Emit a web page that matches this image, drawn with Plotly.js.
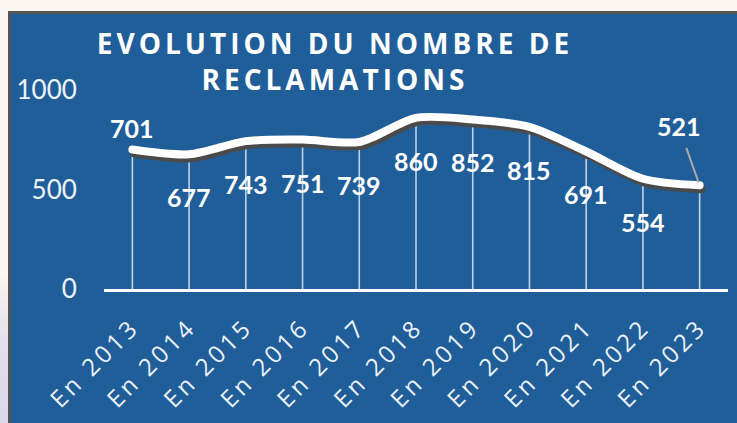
<!DOCTYPE html>
<html><head><meta charset="utf-8">
<script src="https://cdn.plot.ly/plotly-3.0.1.min.js"></script>
<style>
html,body{margin:0;padding:0;width:737px;height:423px;overflow:hidden;
 background:linear-gradient(to bottom,#fcf6f1 0%,#fcf5f0 65%,#e4dfec 80%,#d9d6e8 100%);}
#frame{position:absolute;left:8px;top:11px;width:726px;height:409px;background:#205e99;
 border-left:3px solid #545454;border-top:3px solid #545454;}
#chart{position:absolute;left:0;top:0;width:737px;height:423px;}
.gtitle{letter-spacing:4px;}
.xtick text{letter-spacing:3.5px;}
.scatterlayer .js-line{stroke-linecap:round;stroke-linejoin:round;}
</style></head>
<body>
<div id="frame"></div>
<div id="chart"></div>
<script>
const categories = ["En 2013","En 2014","En 2015","En 2016","En 2017","En 2018","En 2019","En 2020","En 2021","En 2022","En 2023"];
const reclamations = [701,677,743,751,739,860,852,815,691,554,521];
const yTickVals = [0,500,1000];
const yTickText = ["0","500","1000"];

const white = '#ffffff';
const zeros = reclamations.map(() => 0);

const traces = [
  { // drop lines
    x: categories, y: reclamations, type:'scatter', mode:'markers',
    marker:{size:1, color:'rgba(0,0,0,0)'},
    error_y:{type:'data', symmetric:false, array:zeros, arrayminus:reclamations,
      width:0, thickness:1.6, color:'rgba(255,255,255,0.72)'},
    hoverinfo:'skip', showlegend:false
  },
  { // shadow (axes shifted a few pixels down/right)
    x: categories, y: reclamations, type:'scatter', mode:'lines',
    xaxis:'x2', yaxis:'y2',
    line:{color:'#4a4a4a', width:8, shape:'spline', smoothing:0.8},
    hoverinfo:'skip', showlegend:false
  },
  { // main line (same scale as the main axes, drawn above the shadow)
    x: categories, y: reclamations, type:'scatter', mode:'lines',
    xaxis:'x3', yaxis:'y3',
    line:{color:white, width:8, shape:'spline', smoothing:0.8},
    showlegend:false
  }
];

const annotations = reclamations.map((v,i) => {
  const a = {x: categories[i], y: v, xref:'x', yref:'y', text: String(v),
    showarrow:false, font:{family:'Lato, sans-serif', size:25, color:white, weight:'bold'},
    xanchor:'center', yanchor:'middle', yshift:-43};
  if (i === 0) a.yshift = 22;
  if (i === reclamations.length-1) {
    delete a.yshift;
    a.showarrow = true; a.ax = -21; a.ay = -59; a.arrowhead = 0;
    a.arrowcolor = '#a9a9a9'; a.arrowwidth = 2; a.standoff = 3; a.borderpad = 6;
  }
  return a;
});

const layout = {
  width:737, height:423,
  paper_bgcolor:'rgba(0,0,0,0)', plot_bgcolor:'rgba(0,0,0,0)',
  margin:{l:104, r:9, t:90, b:134},
  title:{text:'EVOLUTION DU NOMBRE DE<br>RECLAMATIONS',
    font:{family:'Open Sans, sans-serif', size:28, color:white, weight:'bold'},
    x:0.4545, xref:'container', xanchor:'center',
    y:1-54/423, yref:'container', yanchor:'top'},
  xaxis:{type:'category', range:[-0.5,10.5], showgrid:false, zeroline:false,
    showline:true, linecolor:white, linewidth:2.5,
    ticks:'outside', ticklen:12, tickcolor:'rgba(0,0,0,0)',
    tickangle:-45, tickfont:{family:'Open Sans, sans-serif', size:24, color:'#eef3f8'}},
  yaxis:{range:[0,1000], tickvals:yTickVals, ticktext:yTickText, showgrid:false,
    zeroline:false, showline:false, ticks:'outside', ticklen:21, tickcolor:'rgba(0,0,0,0)',
    tickfont:{family:'Lato, sans-serif', size:26, color:'#eef3f8'}},
  xaxis2:{type:'category', overlaying:'x', anchor:'y2', range:[-0.535,10.465], visible:false},
  yaxis2:{overlaying:'y', anchor:'x2', range:[20,1020], visible:false},
  xaxis3:{type:'category', overlaying:'x', anchor:'y3', range:[-0.5,10.5], visible:false},
  yaxis3:{overlaying:'y', anchor:'x3', range:[0,1000], visible:false},
  annotations: annotations,
  showlegend:false
};

Plotly.newPlot('chart', traces, layout, {displayModeBar:false, staticPlot:true});
</script>
</body></html>
